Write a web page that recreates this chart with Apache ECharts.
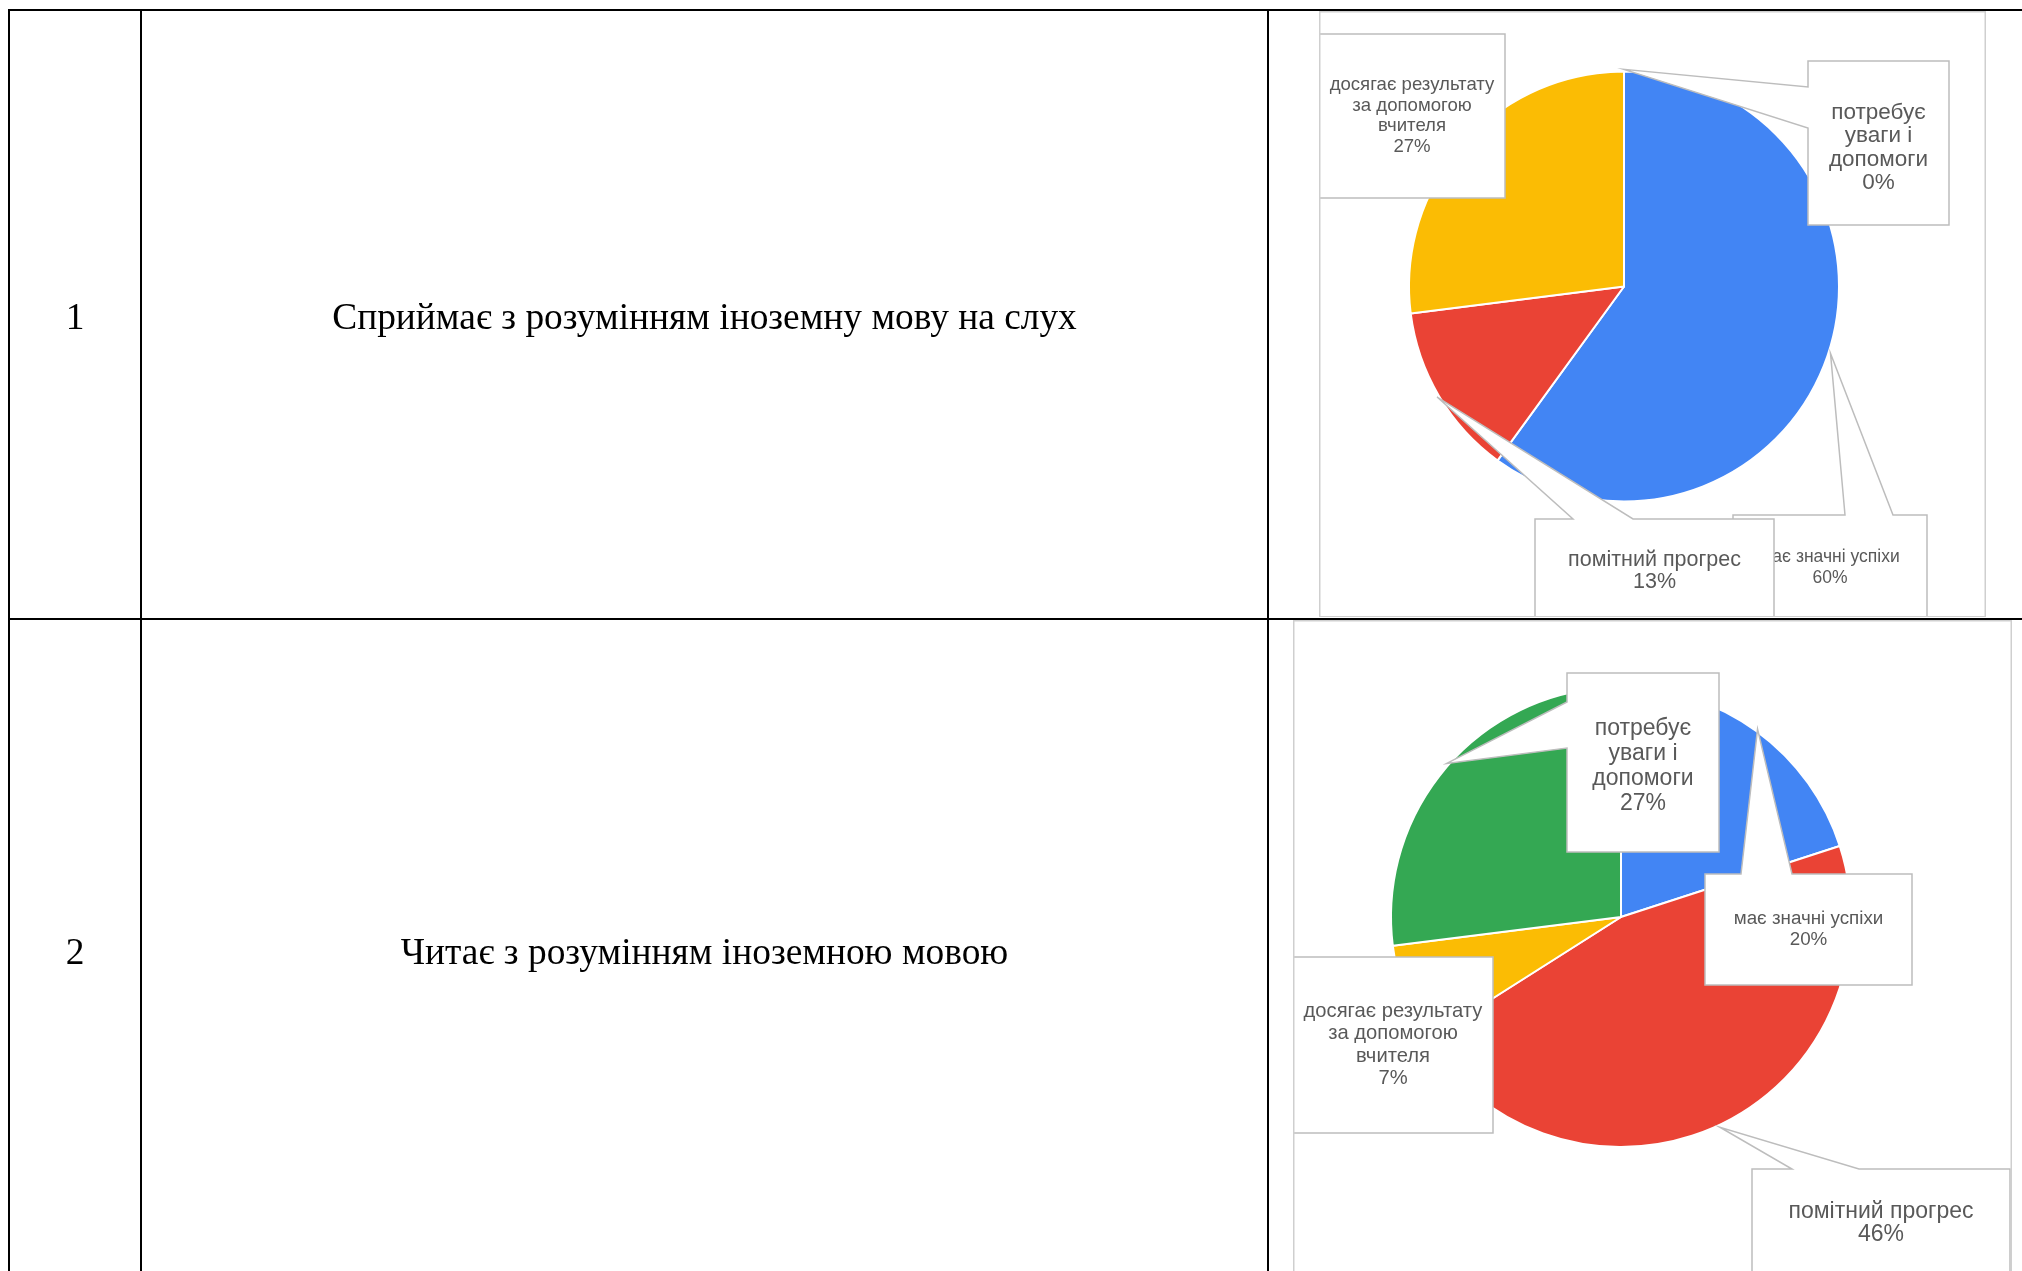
<!DOCTYPE html>
<html>
<head>
<meta charset="utf-8">
<script src="https://cdn.jsdelivr.net/npm/echarts@6/dist/echarts.min.js"></script>
<style>
html, body { margin: 0; padding: 0; background: #fff; overflow: hidden; }
#bg { position: absolute; left: 0; top: 0; width: 2022px; height: 1271px; }
#c1 { position: absolute; left: 1319px; top: 11px; width: 667px; height: 606px; }
#c2 { position: absolute; left: 1293px; top: 620px; width: 719px; height: 651px; }
</style>
</head>
<body>
<div id="bg"></div>
<div id="c1"></div>
<div id="c2"></div>
<script>
// ---------------- data ----------------
const rowNumbers = ['1', '2'];
const rowTitles = [
  'Сприймає з розумінням іноземну мову на слух',
  'Читає з розумінням іноземною мовою'
];
const categories = [
  'має значні успіхи',
  'помітний прогрес',
  'досягає результату за допомогою вчителя',
  'потребує уваги і допомоги'
];
const listeningPct = [60, 13, 27, 0];
const readingPct = [20, 46, 7, 27];

// ---------------- styles / layout ----------------
const sliceColors = ['#4285F4', '#EA4335', '#FBBC04', '#34A853'];
const labelColor = '#595959';
const calloutStroke = '#bdbdbd';

// table (page coordinates)
const tableLines = [
  [9, 10, 2022, 10],
  [9, 619, 2022, 619],
  [9, 9, 9, 1271],
  [141, 9, 141, 1271],
  [1268, 9, 1268, 1271]
];
const rowCenters = [319, 954.5];
const numberX = 75, titleX = 704.5;
const tableFont = '37.4px "Liberation Serif"';

const layout1 = {
  center: [305, 275.5], radius: 215, frameH: 605,
  callouts: [
    { box: [414, 504, 194, 105], side: 'top', base: [526, 574], font: 17.5, lh: 21, wrap: 190 },
    { box: [216, 508, 239, 104], side: 'top', base: [254, 314], font: 21.5, lh: 22, wrap: 235 },
    { box: [0, 23, 186, 164], side: null, font: 18.6, lh: 20.5, wrap: 176 },
    { box: [489, 50, 141, 164], side: 'left', base: [76, 117], font: 22.5, lh: 23.5, wrap: 120, dy: 5 }
  ]
};
const layout2 = {
  center: [328, 297], radius: 230, frameH: 900,
  callouts: [
    { box: [412, 254, 207, 111], side: 'top', base: [448, 499], font: 18.8, lh: 21, wrap: 205 },
    { box: [459, 549, 258, 109], side: 'top', base: [499, 566], font: 23, lh: 23, wrap: 255 },
    { box: [0, 337, 200, 176], side: null, font: 20.2, lh: 22.5, wrap: 192 },
    { box: [274, 53, 152, 179], side: 'left', base: [82, 128], font: 23, lh: 25, wrap: 125, dy: 4 }
  ]
};

// word wrap by measured width
const measureCtx = document.createElement('canvas').getContext('2d');
function wrapWords(text, font, maxW) {
  measureCtx.font = font;
  const words = text.split(' ');
  const lines = [];
  let cur = '';
  words.forEach(w => {
    const test = cur ? cur + ' ' + w : w;
    if (cur && measureCtx.measureText(test).width > maxW) { lines.push(cur); cur = w; }
    else cur = test;
  });
  if (cur) lines.push(cur);
  return lines.join('\n');
}

// ---------------- background table ----------------
const bg = echarts.init(document.getElementById('bg'));
const bgElements = [];
tableLines.forEach(l => bgElements.push({
  type: 'line', silent: true,
  shape: { x1: l[0], y1: l[1], x2: l[2], y2: l[3] },
  style: { stroke: '#000', lineWidth: 2 }
}));
rowNumbers.forEach((n, i) => {
  bgElements.push({
    type: 'text', silent: true, x: numberX, y: rowCenters[i],
    style: { text: n, font: tableFont, fill: '#000', align: 'center', verticalAlign: 'middle' }
  });
  bgElements.push({
    type: 'text', silent: true, x: titleX, y: rowCenters[i],
    style: { text: rowTitles[i], font: tableFont, fill: '#000', align: 'center', verticalAlign: 'middle' }
  });
});
bg.setOption({ animation: false, backgroundColor: '#fff', graphic: { elements: bgElements } });

// ---------------- pie charts with callouts ----------------
function buildPie(el, values, lay) {
  const chart = echarts.init(el);
  const total = values.reduce((a, b) => a + b, 0);
  const W = el.clientWidth;
  const elements = [];
  let cum = 0;
  values.forEach((v, i) => {
    const ang = (cum + v / 2) / total * Math.PI * 2;
    cum += v;
    const c = lay.callouts[i];
    const r = lay.radius * 1.01;
    const tip = [lay.center[0] + r * Math.sin(ang), lay.center[1] - r * Math.cos(ang)];
    const [L, T, w, h] = c.box;
    const R = L + w, B = T + h;
    let pts;
    if (c.side === 'top') pts = [[L, T], [c.base[0], T], tip, [c.base[1], T], [R, T], [R, B], [L, B]];
    else if (c.side === 'left') pts = [[L, T], [R, T], [R, B], [L, B], [L, c.base[1]], tip, [L, c.base[0]]];
    else pts = [[L, T], [R, T], [R, B], [L, B]];
    elements.push({
      type: 'polygon', silent: true, z: 10 + i * 2,
      shape: { points: pts },
      style: { fill: '#fff', stroke: calloutStroke, lineWidth: 1.5 }
    });
    const font = c.font + 'px "Liberation Sans"';
    elements.push({
      type: 'text', silent: true, z: 11 + i * 2,
      x: L + w / 2 + (c.dx || 0), y: T + h / 2 + (c.dy || 0),
      style: {
        text: wrapWords(categories[i], font, c.wrap) + '\n' + v + '%',
        font: font, fill: labelColor,
        align: 'center', verticalAlign: 'middle',
        lineHeight: c.lh
      }
    });
  });
  elements.push({
    type: 'rect', silent: true, z: 50,
    shape: { x: 0.75, y: 0.75, width: W - 1.5, height: lay.frameH },
    style: { fill: 'none', stroke: '#cfcfcf', lineWidth: 1.5 }
  });
  chart.setOption({
    animation: false,
    backgroundColor: '#fff',
    series: [{
      type: 'pie',
      center: lay.center,
      radius: lay.radius,
      startAngle: 90,
      clockwise: true,
      silent: true,
      label: { show: false },
      labelLine: { show: false },
      itemStyle: { borderColor: '#fff', borderWidth: 2 },
      data: categories.map((name, i) => ({ name: name, value: values[i], itemStyle: { color: sliceColors[i] } }))
    }],
    graphic: { elements: elements }
  });
  return chart;
}

buildPie(document.getElementById('c1'), listeningPct, layout1);
buildPie(document.getElementById('c2'), readingPct, layout2);
</script>
</body>
</html>
